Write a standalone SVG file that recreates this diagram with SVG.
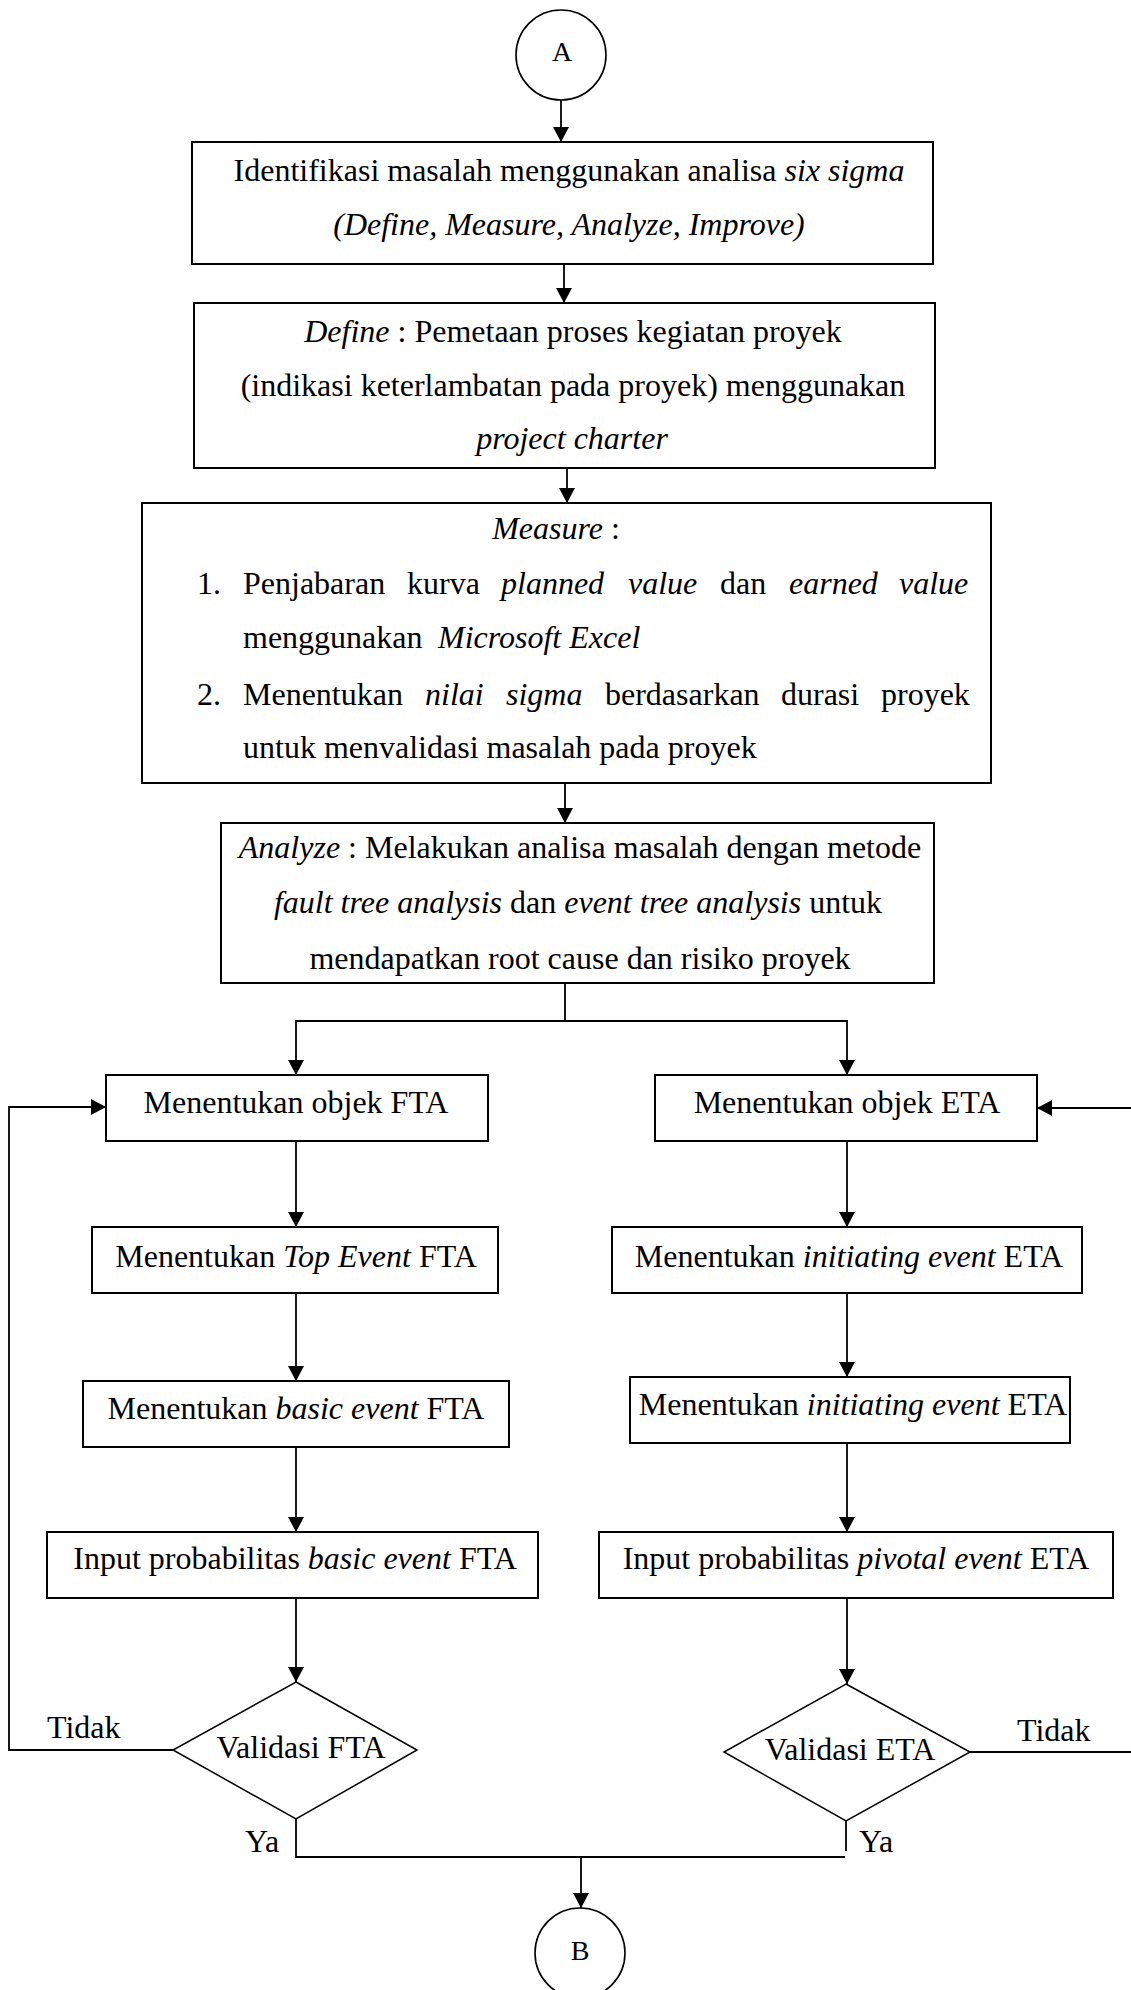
<svg xmlns="http://www.w3.org/2000/svg" width="1131" height="1990" viewBox="0 0 1131 1990">
  <style>
    text { font-family: "Liberation Serif", "Times New Roman", serif; font-size: 32px; fill: #000; }
    .c { text-anchor: middle; }
    .i { font-style: italic; }
    .box { fill: #fff; stroke: #000; stroke-width: 2; }
    .dec { fill: #fff; stroke: #000; stroke-width: 1.5; }
    .term { fill: #fff; stroke: #000; stroke-width: 1.6; }
    .lbl { font-size: 28px; }
    #connectors path { fill: none; stroke: #000; stroke-width: 1.8; }
    #connectors path.arr { marker-end: url(#arrow); }
  </style>
  <defs>
    <marker id="arrow" markerWidth="16" markerHeight="16" refX="15" refY="8" orient="auto" markerUnits="userSpaceOnUse">
      <path d="M0,0 L15,8 L0,16 Z" fill="#000"/>
    </marker>
  </defs>

  <rect width="1131" height="1990" fill="#fff"/>

  <!-- connectors -->
  <g id="connectors">
    <path class="arr" d="M561,100 V142"/>
    <path class="arr" d="M564,264 V303"/>
    <path class="arr" d="M567,468 V503"/>
    <path class="arr" d="M565,783 V823"/>
    <path d="M565,983 V1021"/>
    <path class="arr" d="M565,1021 H296 V1075"/>
    <path class="arr" d="M565,1021 H847 V1075"/>
    <!-- FTA branch -->
    <path class="arr" d="M296,1141 V1227"/>
    <path class="arr" d="M296,1293 V1381"/>
    <path class="arr" d="M296,1447 V1532"/>
    <path class="arr" d="M296,1598 V1682"/>
    <!-- ETA branch -->
    <path class="arr" d="M847,1141 V1227"/>
    <path class="arr" d="M847,1293 V1377"/>
    <path class="arr" d="M847,1443 V1532"/>
    <path class="arr" d="M847,1598 V1684"/>
    <!-- loops back when validation fails -->
    <path class="arr" d="M173,1750 H9 V1107 H106"/>
    <path class="arr" d="M970,1752 H1140 V1108 H1037"/>
    <!-- merge to B -->
    <path d="M296,1819 V1857 H845"/>
    <path d="M846,1821 V1851"/>
    <path class="arr" d="M581,1857 V1908"/>
  </g>

  <!-- connector labels -->
  <g id="labels">
    <text x="47" y="1738">Tidak</text>
    <text x="1017" y="1741">Tidak</text>
    <text x="245" y="1852">Ya</text>
    <text x="859" y="1852">Ya</text>
  </g>

  <g id="start-A">
    <circle class="term" cx="561" cy="55" r="45"/>
    <text class="c lbl" x="562" y="61">A</text>
  </g>

  <g id="identify">
    <rect class="box" x="192" y="142" width="741" height="122"/>
    <text class="c" x="569" y="181">Identifikasi masalah menggunakan analisa <tspan class="i">six sigma</tspan></text>
    <text class="c i" x="569" y="235">(Define, Measure, Analyze, Improve)</text>
  </g>

  <g id="define">
    <rect class="box" x="194" y="303" width="741" height="165"/>
    <text class="c" x="573" y="342"><tspan class="i">Define</tspan> : Pemetaan proses kegiatan proyek</text>
    <text class="c" x="573" y="396">(indikasi keterlambatan pada proyek) menggunakan</text>
    <text class="c i" x="572" y="449">project charter</text>
  </g>

  <g id="measure">
    <rect class="box" x="142" y="503" width="849" height="280"/>
    <text class="c" x="556" y="539"><tspan class="i">Measure</tspan> :</text>
    <text y="594"><tspan x="197">1.</tspan><tspan x="243">Penjabaran</tspan><tspan x="407">kurva</tspan><tspan x="501" class="i">planned</tspan><tspan x="628" class="i">value</tspan><tspan x="720">dan</tspan><tspan x="789" class="i">earned</tspan><tspan x="899" class="i">value</tspan></text>
    <text y="648"><tspan x="243">menggunakan</tspan><tspan x="438" class="i">Microsoft Excel</tspan></text>
    <text y="705"><tspan x="197">2.</tspan><tspan x="243">Menentukan</tspan><tspan x="425" class="i">nilai</tspan><tspan x="506" class="i">sigma</tspan><tspan x="605">berdasarkan</tspan><tspan x="781">durasi</tspan><tspan x="881">proyek</tspan></text>
    <text x="243" y="758">untuk menvalidasi masalah pada proyek</text>
  </g>

  <g id="analyze">
    <rect class="box" x="221" y="823" width="713" height="160"/>
    <text class="c" x="580" y="858"><tspan class="i">Analyze</tspan> : Melakukan analisa masalah dengan metode</text>
    <text class="c" x="578" y="913"><tspan class="i">fault tree analysis</tspan> dan <tspan class="i">event tree analysis</tspan> untuk</text>
    <text class="c" x="580" y="969">mendapatkan root cause dan risiko proyek</text>
  </g>

  <!-- FTA branch -->
  <g id="fta-object">
    <rect class="box" x="106" y="1075" width="382" height="66"/>
    <text class="c" x="296" y="1113">Menentukan objek FTA</text>
  </g>
  <g id="fta-top-event">
    <rect class="box" x="92" y="1227" width="406" height="66"/>
    <text class="c" x="296" y="1267">Menentukan <tspan class="i">Top Event</tspan> FTA</text>
  </g>
  <g id="fta-basic-event">
    <rect class="box" x="83" y="1381" width="426" height="66"/>
    <text class="c" x="296" y="1419">Menentukan <tspan class="i">basic event</tspan> FTA</text>
  </g>
  <g id="fta-probability">
    <rect class="box" x="47" y="1532" width="491" height="66"/>
    <text class="c" x="295" y="1569">Input probabilitas <tspan class="i">basic event</tspan> FTA</text>
  </g>
  <g id="fta-validate">
    <polygon class="dec" points="296,1682 417,1750 296,1819 173,1750"/>
    <text class="c" x="301" y="1758">Validasi FTA</text>
  </g>

  <!-- ETA branch -->
  <g id="eta-object">
    <rect class="box" x="655" y="1075" width="382" height="66"/>
    <text class="c" x="847" y="1113">Menentukan objek ETA</text>
  </g>
  <g id="eta-initiating-1">
    <rect class="box" x="612" y="1227" width="470" height="66"/>
    <text class="c" x="849" y="1267">Menentukan <tspan class="i">initiating event</tspan> ETA</text>
  </g>
  <g id="eta-initiating-2">
    <rect class="box" x="630" y="1377" width="440" height="66"/>
    <text class="c" x="853" y="1415">Menentukan <tspan class="i">initiating event</tspan> ETA</text>
  </g>
  <g id="eta-probability">
    <rect class="box" x="599" y="1532" width="514" height="66"/>
    <text class="c" x="856" y="1569">Input probabilitas <tspan class="i">pivotal event</tspan> ETA</text>
  </g>
  <g id="eta-validate">
    <polygon class="dec" points="846,1684 970,1752 846,1821 724,1752"/>
    <text class="c" x="850" y="1760">Validasi ETA</text>
  </g>

  <g id="end-B">
    <circle class="term" cx="580" cy="1953" r="45"/>
    <text class="c lbl" x="580" y="1960">B</text>
  </g>
</svg>
